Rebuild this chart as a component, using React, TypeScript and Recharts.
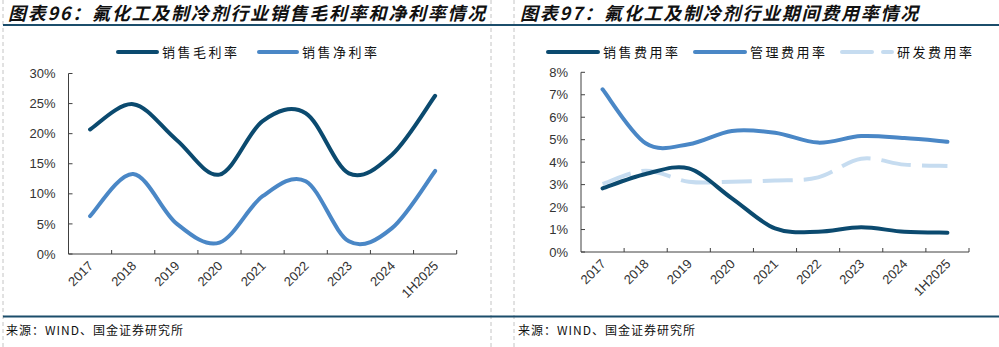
import { Line, LineChart, XAxis, YAxis } from "recharts";

// categories and series (%)
const years = ["2017", "2018", "2019", "2020", "2021", "2022", "2023", "2024", "1H2025"];
const grossMargin = [20.7, 24.9, 19.0, 13.2, 22.1, 23.4, 13.4, 16.5, 26.3];
const netMargin = [6.3, 13.3, 5.1, 1.9, 9.6, 12.1, 2.1, 4.3, 13.8];
const sellingExp = [2.83, 3.47, 3.72, 2.39, 1.05, 0.9, 1.1, 0.9, 0.86];
const adminExp = [7.24, 4.84, 4.8, 5.39, 5.31, 4.87, 5.16, 5.07, 4.91];
const rdExp = [3.03, 3.62, 3.13, 3.13, 3.18, 3.32, 4.15, 3.89, 3.83];
const marginTicks = [0, 5, 10, 15, 20, 25, 30];
const expenseTicks = [0, 1, 2, 3, 4, 5, 6, 7, 8];

const NAVY = "#0b4a6f";
const BLUE = "#4a87c6";
const PALE = "#c6dcf0";
const AXIS = "#404040";
const RULE = "#1b4d6b";
const TICK_FONT = "'Liberation Sans', Arial, sans-serif";
const CJK = "'Noto Sans CJK SC', sans-serif";
const X_AXIS_H = 40;
const Y_AXIS_W = 50;

const marginData = years.map((year, i) => ({ year, gross: grossMargin[i], net: netMargin[i] }));
const expenseData = years.map((year, i) => ({
  year,
  selling: sellingExp[i],
  admin: adminExp[i],
  rd: rdExp[i],
}));

// Excel-style smoothed line (uniform Catmull-Rom through every point)
function smoothCurve(context: any) {
  let pts: number[][] = [];
  return {
    areaStart() {},
    areaEnd() {},
    lineStart() {
      pts = [];
    },
    point(x: number, y: number) {
      pts.push([+x, +y]);
    },
    lineEnd() {
      if (!pts.length) return;
      context.moveTo(pts[0][0], pts[0][1]);
      for (let i = 0; i < pts.length - 1; i++) {
        const p0 = pts[i - 1] ?? pts[i];
        const p1 = pts[i];
        const p2 = pts[i + 1];
        const p3 = pts[i + 2] ?? p2;
        context.bezierCurveTo(
          p1[0] + (p2[0] - p0[0]) / 6,
          p1[1] + (p2[1] - p0[1]) / 6,
          p2[0] - (p3[0] - p1[0]) / 6,
          p2[1] - (p3[1] - p1[1]) / 6,
          p2[0],
          p2[1]
        );
      }
    },
  };
}

type Geo = { axisX: number; axisY: number; top: number; right: number };

function band(g: Geo) {
  return (g.right - g.axisX) / years.length;
}

function yTick(g: Geo) {
  return (props: any) => {
    const { y, payload } = props;
    return (
      <g>
        <line x1={g.axisX} x2={g.axisX + 4} y1={y} y2={y} stroke={AXIS} />
        <text
          x={g.axisX - 13}
          y={y}
          dy={4.6}
          textAnchor="end"
          fontFamily={TICK_FONT}
          fontSize={13}
          fill="#333"
        >
          {payload.value}%
        </text>
      </g>
    );
  };
}

function xTick(g: Geo) {
  const b = band(g);
  return (props: any) => {
    const { x, payload } = props;
    const px = x + 4;
    const py = g.axisY + 12.6;
    return (
      <g>
        <line x1={x + b / 2} x2={x + b / 2} y1={g.axisY - 4} y2={g.axisY} stroke={AXIS} />
        <text
          x={px}
          y={py}
          textAnchor="end"
          transform={`rotate(-45, ${px}, ${py})`}
          fontFamily={TICK_FONT}
          fontSize={13}
          fill="#333"
        >
          {payload.value}
        </text>
      </g>
    );
  };
}

function LegendItem({
  x,
  y,
  len,
  color,
  dash,
  label,
}: {
  x: number;
  y: number;
  len: number;
  color: string;
  dash?: string;
  label: string;
}) {
  return (
    <div style={{ position: "absolute", left: x, top: y - 10, height: 20, display: "flex", alignItems: "center" }}>
      <svg width={len + 4} height={8} style={{ display: "block" }}>
        <line
          x1={2}
          x2={len + 2}
          y1={4}
          y2={4}
          stroke={color}
          strokeWidth={4}
          strokeLinecap="round"
          strokeDasharray={dash}
        />
      </svg>
      <span
        style={{
          marginLeft: 3,
          fontFamily: CJK,
          fontSize: 13,
          letterSpacing: 2.5,
          color: "#111",
          whiteSpace: "nowrap",
          lineHeight: "20px",
        }}
      >
        {label}
      </span>
    </div>
  );
}

function Title({ x, text }: { x: number; text: string }) {
  return (
    <div
      style={{
        position: "absolute",
        left: x,
        top: 0,
        lineHeight: "24px",
        fontFamily: CJK,
        fontSize: 18,
        fontWeight: 700,
        fontStyle: "italic",
        letterSpacing: 1.75,
        color: "#111",
        whiteSpace: "nowrap",
      }}
    >
      {text}
    </div>
  );
}

function Source({ x }: { x: number }) {
  return (
    <div
      style={{
        position: "absolute",
        left: x,
        top: 321,
        lineHeight: "18px",
        fontFamily: CJK,
        fontSize: 12,
        letterSpacing: 1,
        color: "#111",
        whiteSpace: "nowrap",
      }}
    >
      来源：WIND、国金证券研究所
    </div>
  );
}

const leftGeo: Geo = { axisX: 68.5, axisY: 254, top: 73.5, right: 456.7 };
const rightGeo: Geo = { axisX: 81, axisY: 252, top: 72.3, right: 469 };

function chartMargin(g: Geo, width: number) {
  return {
    top: g.top,
    bottom: 347 - g.axisY - X_AXIS_H,
    left: g.axisX - Y_AXIS_W,
    right: width - g.right,
  };
}

export default function App() {
  const lb = band(leftGeo);
  const rb = band(rightGeo);
  return (
    <div
      style={{
        position: "absolute",
        left: 0,
        top: 0,
        width: 999,
        height: 347,
        background: "#fff",
        overflow: "hidden",
      }}
    >
      {/* panel frames */}
      <svg width={999} height={347} style={{ position: "absolute", left: 0, top: 0 }}>
        {[3, 491, 514].map((x) => (
          <line key={x} x1={x} x2={x} y1={0} y2={347} stroke="#c4c4c4" strokeDasharray="4 3" />
        ))}
        <line x1={3} x2={999} y1={25} y2={25} stroke={RULE} strokeWidth={2} />
        <line x1={3} x2={999} y1={316.5} y2={316.5} stroke={RULE} strokeWidth={2} />
      </svg>

      <Title x={8} text="图表96：氟化工及制冷剂行业销售毛利率和净利率情况" />
      <Title x={520} text="图表97：氟化工及制冷剂行业期间费用率情况" />
      <Source x={6} />
      <Source x={518} />

      <LegendItem x={116} y={52} len={39} color={NAVY} label="销售毛利率" />
      <LegendItem x={257} y={52} len={38} color={BLUE} label="销售净利率" />
      <LegendItem x={546} y={52} len={50} color={NAVY} label="销售费用率" />
      <LegendItem x={693} y={52} len={50} color={BLUE} label="管理费用率" />
      <LegendItem x={840} y={52} len={50} color={PALE} dash="30 11" label="研发费用率" />

      <div style={{ position: "absolute", left: 0, top: 0 }}>
        <LineChart width={500} height={347} data={marginData} margin={chartMargin(leftGeo, 500)}>
          <XAxis
            dataKey="year"
            interval={0}
            padding={{ left: lb / 2, right: lb / 2 }}
            tickLine={false}
            tickSize={0}
            tickMargin={0}
            axisLine={{ stroke: AXIS }}
            tick={xTick(leftGeo)}
            height={X_AXIS_H}
          />
          <YAxis
            domain={[0, 30]}
            ticks={marginTicks}
            interval={0}
            width={Y_AXIS_W}
            tickLine={false}
            tickSize={0}
            tickMargin={13}
            axisLine={{ stroke: AXIS }}
            tick={yTick(leftGeo)}
          />
          <Line
            type={smoothCurve as any}
            dataKey="gross"
            stroke={NAVY}
            strokeWidth={4}
            strokeLinecap="round"
            dot={false}
            isAnimationActive={false}
          />
          <Line
            type={smoothCurve as any}
            dataKey="net"
            stroke={BLUE}
            strokeWidth={4}
            strokeLinecap="round"
            dot={false}
            isAnimationActive={false}
          />
        </LineChart>
      </div>

      <div style={{ position: "absolute", left: 500, top: 0 }}>
        <LineChart width={499} height={347} data={expenseData} margin={chartMargin(rightGeo, 499)}>
          <XAxis
            dataKey="year"
            interval={0}
            padding={{ left: rb / 2, right: rb / 2 }}
            tickLine={false}
            tickSize={0}
            tickMargin={0}
            axisLine={{ stroke: AXIS }}
            tick={xTick(rightGeo)}
            height={X_AXIS_H}
          />
          <YAxis
            domain={[0, 8]}
            ticks={expenseTicks}
            interval={0}
            width={Y_AXIS_W}
            tickLine={false}
            tickSize={0}
            tickMargin={13}
            axisLine={{ stroke: AXIS }}
            tick={yTick(rightGeo)}
          />
          <Line
            type={smoothCurve as any}
            dataKey="rd"
            stroke={PALE}
            strokeWidth={4}
            strokeDasharray="30 11"
            dot={false}
            isAnimationActive={false}
          />
          <Line
            type={smoothCurve as any}
            dataKey="selling"
            stroke={NAVY}
            strokeWidth={4}
            strokeLinecap="round"
            dot={false}
            isAnimationActive={false}
          />
          <Line
            type={smoothCurve as any}
            dataKey="admin"
            stroke={BLUE}
            strokeWidth={4}
            strokeLinecap="round"
            dot={false}
            isAnimationActive={false}
          />
        </LineChart>
      </div>
    </div>
  );
}
